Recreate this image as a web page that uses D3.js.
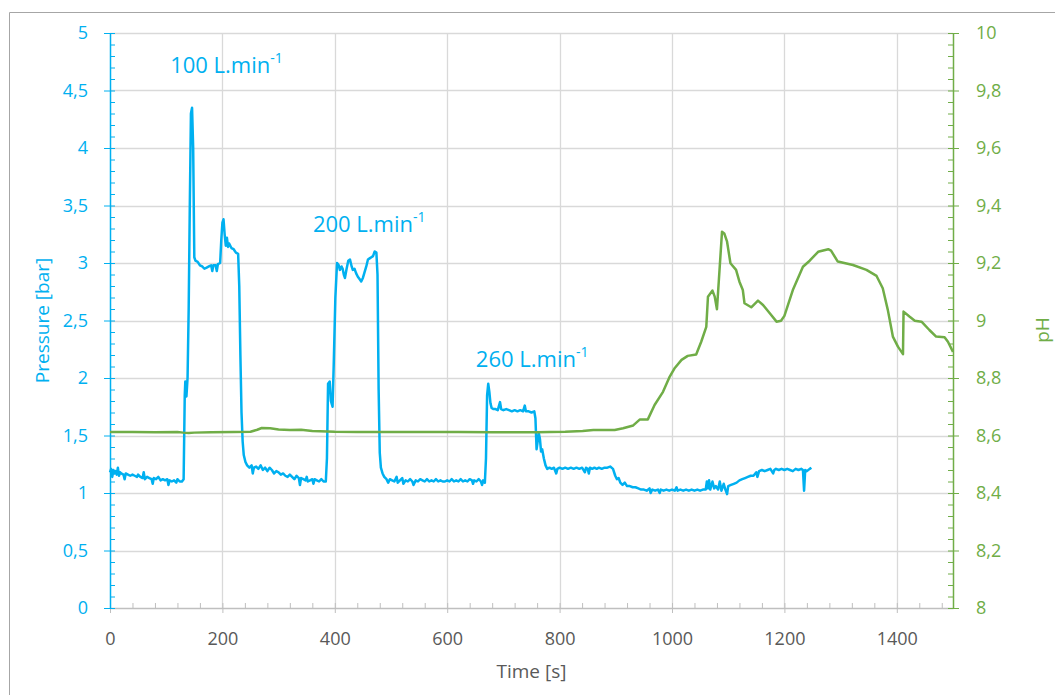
<!DOCTYPE html>
<html>
<head>
<meta charset="utf-8">
<script src="https://cdn.jsdelivr.net/npm/d3@7"></script>
<style>
  body { margin: 0; background: #fff; }
  svg { display: block; font-family: "Open Sans", sans-serif; }
</style>
</head>
<body>
<svg id="chart" width="1055" height="695"></svg>
<script>
// Pressure trace (blue, left axis)
const pressureTime = [
  0, 2, 4, 6, 8, 10, 12, 14, 16, 18, 20, 24, 26, 28, 32, 36, 40, 44, 48, 50, 54, 58, 60, 62, 66, 70, 74, 76, 78, 82, 86, 90, 94, 98, 102, 104, 106, 110, 114, 118, 120, 124, 128,
  131, 133, 134, 136, 138, 140, 142, 144, 146, 148, 150, 152, 156, 160, 164, 168, 172, 176, 180, 182, 184, 188, 190, 192, 196, 198, 200, 202, 204, 206, 208, 210, 212, 216, 220, 224, 228,
  230, 232, 234, 236, 238, 241, 244, 248, 252, 254, 256, 260, 264, 268, 272, 276, 280, 284, 288, 292, 296, 300, 304, 308, 312, 316, 320, 324, 328, 332, 336, 338, 340, 344, 348, 350, 352, 356, 360, 362, 364, 368, 372, 376, 380, 384,
  386, 388, 391, 393, 396, 398, 401, 404, 407, 409, 412, 414, 416, 418, 421, 424, 427, 430, 432, 435, 438, 441, 444, 447, 450, 453, 456, 459, 462, 465, 468, 471, 474,
  476, 478, 480, 482, 485, 488, 492, 495, 498, 502, 506, 510, 512, 516, 520, 522, 526, 530, 534, 538, 540, 544, 548, 552, 556, 560, 564, 568, 572, 576, 580, 584, 588, 592, 596, 600, 604, 608, 612, 616, 620, 624, 628, 632, 636, 640, 644, 646, 648, 652, 656, 660, 662, 664, 667,
  669, 671, 673, 675, 677, 679, 682, 686, 690, 694, 696, 700, 705, 710, 715, 720, 725, 730, 735, 738, 740, 745, 750, 755,
  757, 759, 761, 763, 765, 767, 769, 772, 775, 778, 782, 786, 790, 794, 796, 800, 805, 810, 815, 820, 825, 830, 835, 840, 845, 847, 850, 852, 854, 858, 862, 866, 870, 875, 880, 885, 890, 895,
  899, 902, 905, 908, 912, 916, 920, 925, 930, 935, 940, 945, 950, 955, 960, 962, 965, 970, 975, 978, 980, 985, 990, 995, 1000, 1005, 1008, 1010, 1015, 1020, 1025, 1030, 1035, 1040, 1045, 1050, 1055, 1060,
  1062, 1064, 1066, 1068, 1072, 1075, 1078, 1082, 1085, 1088, 1092, 1095, 1098, 1100, 1105, 1110, 1115, 1120, 1125, 1130, 1135, 1140, 1145, 1150, 1152, 1155, 1160, 1165, 1170, 1175, 1180, 1182, 1185, 1190, 1195,
  1200, 1205, 1210, 1215, 1220, 1225, 1230, 1233, 1235, 1237, 1240, 1245, 1248
];
const pressure = [
  1.18, 1.21, 1.14, 1.20, 1.17, 1.19, 1.16, 1.22, 1.15, 1.18, 1.17, 1.16, 1.12, 1.17, 1.16, 1.15, 1.16, 1.15, 1.14, 1.16, 1.14, 1.13, 1.18, 1.12, 1.14, 1.13, 1.12, 1.08, 1.13, 1.12, 1.14, 1.11, 1.12, 1.11, 1.12, 1.07, 1.11, 1.10, 1.11, 1.09, 1.12, 1.10, 1.10,
  1.12, 1.85, 1.97, 1.84, 2.00, 2.60, 3.50, 4.30, 4.35, 4.00, 3.05, 3.02, 3.01, 2.98, 2.97, 2.95, 2.96, 2.97, 2.98, 2.93, 2.98, 2.98, 2.93, 2.99, 3.00, 3.20, 3.35, 3.38, 3.25, 3.15, 3.22, 3.14, 3.17, 3.13, 3.12, 3.09, 3.08,
  2.80, 2.20, 1.70, 1.45, 1.33, 1.27, 1.24, 1.22, 1.24, 1.17, 1.22, 1.23, 1.21, 1.24, 1.20, 1.22, 1.19, 1.22, 1.20, 1.17, 1.19, 1.18, 1.16, 1.17, 1.15, 1.14, 1.16, 1.14, 1.12, 1.15, 1.13, 1.07, 1.13, 1.12, 1.11, 1.14, 1.10, 1.11, 1.12, 1.08, 1.12, 1.11, 1.10, 1.12, 1.10, 1.10,
  1.30, 1.95, 1.97, 1.80, 1.75, 2.10, 2.70, 3.00, 2.98, 2.94, 2.97, 2.95, 2.90, 2.87, 2.95, 3.02, 3.03, 2.97, 2.94, 2.95, 2.91, 2.88, 2.86, 2.84, 2.87, 2.92, 2.97, 3.03, 3.04, 3.05, 3.06, 3.10, 3.09,
  2.90, 1.90, 1.35, 1.22, 1.17, 1.14, 1.12, 1.09, 1.12, 1.11, 1.10, 1.14, 1.09, 1.11, 1.13, 1.08, 1.11, 1.10, 1.12, 1.10, 1.07, 1.11, 1.10, 1.12, 1.11, 1.10, 1.12, 1.10, 1.11, 1.10, 1.12, 1.10, 1.11, 1.10, 1.10, 1.11, 1.10, 1.12, 1.10, 1.11, 1.10, 1.12, 1.10, 1.11, 1.10, 1.12, 1.11, 1.08, 1.11, 1.10, 1.12, 1.10, 1.07, 1.11, 1.09,
  1.30, 1.85, 1.95, 1.88, 1.78, 1.74, 1.73, 1.73, 1.72, 1.79, 1.73, 1.72, 1.73, 1.72, 1.71, 1.72, 1.71, 1.72, 1.71, 1.76, 1.71, 1.71, 1.70, 1.71,
  1.65, 1.38, 1.45, 1.52, 1.47, 1.36, 1.38, 1.30, 1.24, 1.21, 1.22, 1.21, 1.22, 1.17, 1.21, 1.22, 1.21, 1.22, 1.21, 1.22, 1.21, 1.22, 1.21, 1.22, 1.18, 1.22, 1.21, 1.17, 1.22, 1.21, 1.22, 1.21, 1.22, 1.21, 1.22, 1.22, 1.23, 1.21,
  1.15, 1.12, 1.13, 1.09, 1.07, 1.09, 1.06, 1.06, 1.05, 1.05, 1.04, 1.03, 1.03, 1.02, 1.04, 1.00, 1.03, 1.02, 1.03, 1.00, 1.03, 1.02, 1.03, 1.02, 1.03, 1.02, 1.05, 1.02, 1.03, 1.02, 1.03, 1.02, 1.03, 1.02, 1.03, 1.02, 1.03, 1.03,
  1.10, 1.04, 1.11, 1.03, 1.10, 1.04, 1.06, 1.03, 1.10, 1.02, 1.08, 1.03, 0.99, 1.06, 1.07, 1.08, 1.09, 1.11, 1.12, 1.13, 1.14, 1.15, 1.15, 1.18, 1.14, 1.19, 1.20, 1.19, 1.20, 1.21, 1.17, 1.20, 1.21, 1.20, 1.21,
  1.20, 1.21, 1.20, 1.19, 1.21, 1.20, 1.21, 1.20, 1.02, 1.20, 1.19, 1.21, 1.22
];

// pH trace (green, right axis)
const phTime = [
  0, 40, 80, 120, 130, 140, 150, 180, 220, 250, 262, 270, 285, 300, 320, 340, 360, 400, 440, 500, 560, 620, 680, 720, 760, 782, 810, 841, 860, 898,
  913, 931, 943, 957, 969, 984, 996, 1005, 1017, 1028, 1043, 1052, 1061, 1064, 1072, 1076, 1080, 1089, 1093, 1098, 1104, 1114, 1120, 1126, 1129,
  1141, 1153, 1162, 1174, 1186, 1194, 1200, 1215, 1233, 1245, 1260, 1278, 1283, 1295, 1322, 1346, 1364, 1375, 1384, 1393, 1402, 1411, 1412,
  1423, 1432, 1444, 1458, 1470, 1485, 1491, 1500
];
const ph = [
  8.612, 8.612, 8.611, 8.612, 8.610, 8.609, 8.610, 8.611, 8.612, 8.613, 8.620, 8.626, 8.625, 8.621, 8.619, 8.620, 8.616, 8.613, 8.612, 8.612, 8.612, 8.612, 8.611, 8.611, 8.611, 8.612, 8.613, 8.616, 8.619, 8.619,
  8.625, 8.635, 8.656, 8.656, 8.706, 8.752, 8.805, 8.835, 8.863, 8.877, 8.882, 8.926, 8.978, 9.083, 9.104, 9.083, 9.039, 9.309, 9.303, 9.274, 9.199, 9.176, 9.135, 9.106, 9.060,
  9.046, 9.069, 9.054, 9.025, 8.996, 8.999, 9.016, 9.106, 9.187, 9.208, 9.239, 9.248, 9.243, 9.205, 9.193, 9.176, 9.155, 9.112, 9.037, 8.944, 8.909, 8.883, 9.031,
  9.013, 8.999, 8.996, 8.967, 8.944, 8.942, 8.926, 8.891
];

// Flow-rate labels, anchored in data coordinates (time, pressure)
const flowLabels = ["100 L.min", "200 L.min", "260 L.min"];
const flowLabelTime = [107, 361, 651];
const flowLabelPressure = [4.65, 3.27, 2.10];

// Tick values
const timeTicks = [0, 200, 400, 600, 800, 1000, 1200, 1400];
const pressureTicks = [0, 0.5, 1, 1.5, 2, 2.5, 3, 3.5, 4, 4.5, 5];
const phTicks = [8, 8.2, 8.4, 8.6, 8.8, 9, 9.2, 9.4, 9.6, 9.8, 10];

const blue = "#00b0f0";
const green = "#70ad47";
const gray = "#595959";

const margin = { top: 33, right: 102, bottom: 87, left: 110 };
const W = 1055, H = 695;
const width = W - margin.left - margin.right;
const height = H - margin.top - margin.bottom;

const svg = d3.select("#chart");

// outer chart frame (cropped at right and bottom)
svg.append("path")
  .attr("d", `M9.5,${H} V12.5 H${W}`)
  .attr("fill", "none")
  .attr("stroke", "#a6a6a6")
  .attr("stroke-width", 1);

const g = svg.append("g").attr("transform", `translate(${margin.left},${margin.top})`);

const x = d3.scaleLinear().domain([0, 1500]).range([0, width]);
const yP = d3.scaleLinear().domain([0, 5]).range([height, 0]);
const yPh = d3.scaleLinear().domain([8, 10]).range([height, 0]);

const comma = (v) => String(v).replace(".", ",");

// gridlines
g.append("g")
  .selectAll("line")
  .data(pressureTicks.slice(1))
  .join("line")
  .attr("x1", 0).attr("x2", width)
  .attr("y1", (d) => Math.round(yP(d)) + 0.5).attr("y2", (d) => Math.round(yP(d)) + 0.5)
  .attr("stroke", "#d9d9d9").attr("stroke-width", 1.3);

g.append("g")
  .selectAll("line")
  .data(timeTicks.slice(1))
  .join("line")
  .attr("y1", 0).attr("y2", height)
  .attr("x1", (d) => Math.round(x(d)) + 0.5).attr("x2", (d) => Math.round(x(d)) + 0.5)
  .attr("stroke", "#d9d9d9").attr("stroke-width", 1.3);

// x axis: minor ticks inward, major outward
const xMinor = d3.range(0, 1501, 40);
g.append("g")
  .attr("transform", `translate(0,${height})`)
  .call(d3.axisTop(x).tickValues(xMinor).tickSize(5).tickFormat(""))
  .call((a) => a.selectAll("line").attr("stroke", "#bfbfbf"))
  .call((a) => a.select(".domain").remove());

g.append("g")
  .attr("transform", `translate(0,${height})`)
  .call(d3.axisBottom(x).tickValues(timeTicks).tickSizeInner(5).tickSizeOuter(0).tickPadding(19).tickFormat((d) => d))
  .call((a) => a.select(".domain").attr("stroke", "#bfbfbf").attr("stroke-width", 1.3))
  .call((a) => a.selectAll("line").attr("stroke", "#bfbfbf"))
  .call((a) => a.selectAll("text").attr("fill", gray).style("font-size", "18px").attr("font-family", "Open Sans"));

// left axis (pressure)
g.append("g")
  .call(d3.axisRight(yP).tickValues(d3.range(0, 51).map((i) => i / 10)).tickSize(5).tickFormat(""))
  .call((a) => a.selectAll("line").attr("stroke", blue))
  .call((a) => a.select(".domain").remove());

g.append("g")
  .call(d3.axisLeft(yP).tickValues(pressureTicks).tickSizeInner(6).tickSizeOuter(0).tickPadding(16).tickFormat(comma))
  .call((a) => a.select(".domain").attr("stroke", blue).attr("stroke-width", 1.5))
  .call((a) => a.selectAll("line").attr("stroke", blue))
  .call((a) => a.selectAll("text").attr("fill", blue).style("font-size", "18px").attr("font-family", "Open Sans"));

// right axis (pH)
g.append("g")
  .attr("transform", `translate(${width},0)`)
  .call(d3.axisLeft(yPh).tickValues(d3.range(0, 51).map((i) => 8 + i * 0.04)).tickSize(5).tickFormat(""))
  .call((a) => a.selectAll("line").attr("stroke", green))
  .call((a) => a.select(".domain").remove());

g.append("g")
  .attr("transform", `translate(${width},0)`)
  .call(d3.axisRight(yPh).tickValues(phTicks).tickSizeInner(6).tickSizeOuter(0).tickPadding(17).tickFormat(comma))
  .call((a) => a.select(".domain").attr("stroke", green).attr("stroke-width", 1.5))
  .call((a) => a.selectAll("line").attr("stroke", green))
  .call((a) => a.selectAll("text").attr("fill", green).style("font-size", "18px").attr("font-family", "Open Sans"));

// series
const pressurePts = pressureTime.map((t, i) => [t, pressure[i]]);
const phPts = phTime.map((t, i) => [t, ph[i]]);

g.append("path")
  .datum(pressurePts)
  .attr("fill", "none")
  .attr("stroke", blue)
  .attr("stroke-width", 2.5)
  .attr("stroke-linejoin", "round")
  .attr("d", d3.line().x((d) => x(d[0])).y((d) => yP(d[1])));

g.append("path")
  .datum(phPts)
  .attr("fill", "none")
  .attr("stroke", green)
  .attr("stroke-width", 2.5)
  .attr("stroke-linejoin", "round")
  .attr("d", d3.line().x((d) => x(d[0])).y((d) => yPh(d[1])));

// flow labels with superscript -1
const lbl = g.append("g")
  .selectAll("text")
  .data(flowLabels)
  .join("text")
  .attr("x", (d, i) => x(flowLabelTime[i]))
  .attr("y", (d, i) => yP(flowLabelPressure[i]))
  .attr("fill", blue)
  .style("font-size", "22px");
lbl.append("tspan").text((d) => d);
lbl.append("tspan").attr("dy", -10).style("font-size", "14px").text("-1");

// axis titles
svg.append("text")
  .attr("x", margin.left + width / 2)
  .attr("y", 678)
  .attr("text-anchor", "middle")
  .attr("fill", gray)
  .style("font-size", "19px")
  .text("Time [s]");

svg.append("text")
  .attr("transform", `translate(49,${margin.top + height / 2}) rotate(-90)`)
  .attr("text-anchor", "middle")
  .attr("fill", blue)
  .style("font-size", "19px")
  .text("Pressure [bar]");

svg.append("text")
  .attr("transform", `translate(1049,330) rotate(-90)`)
  .attr("text-anchor", "middle")
  .attr("fill", green)
  .style("font-size", "19px")
  .text("pH");
</script>
</body>
</html>
